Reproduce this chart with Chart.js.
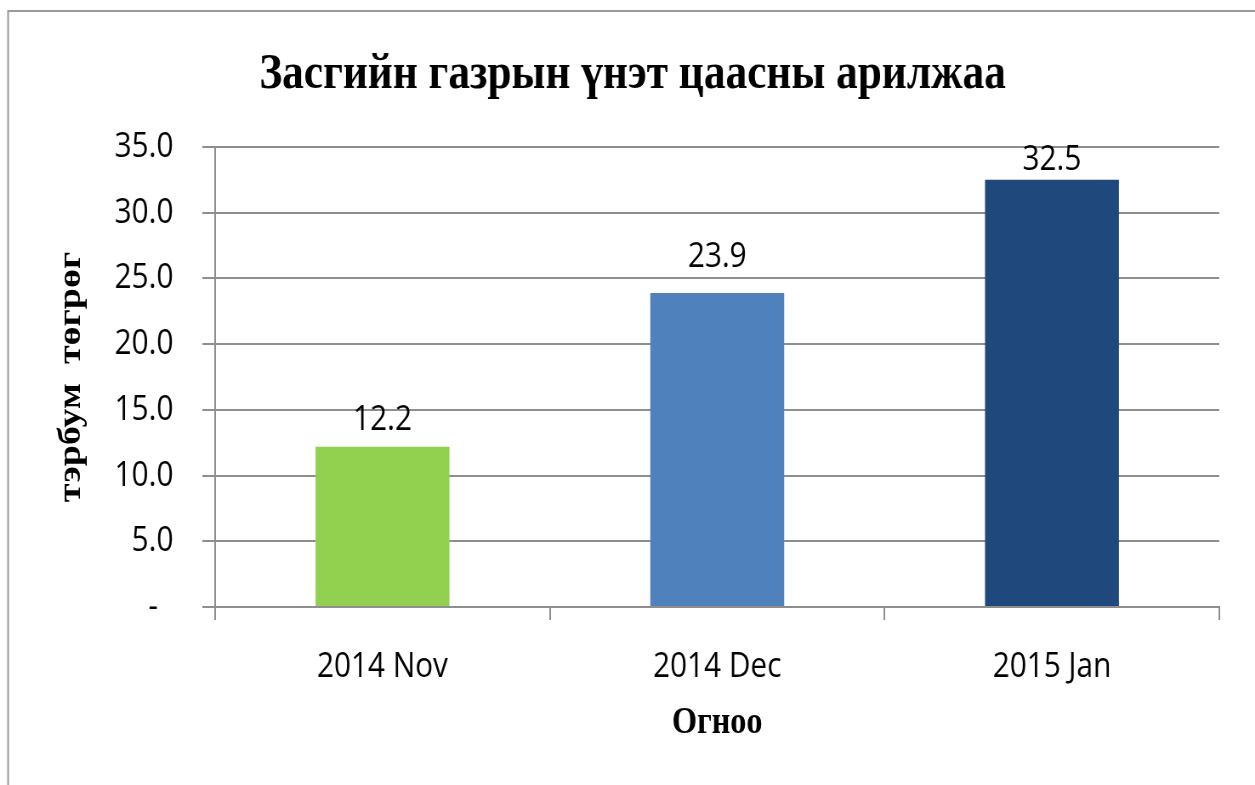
<!DOCTYPE html>
<html>
<head>
<meta charset="utf-8">
<script src="https://cdn.jsdelivr.net/npm/chart.js@4/dist/chart.umd.min.js"></script>
<style>
  html, body { margin: 0; padding: 0; background: #fff; overflow: hidden; }
  #wrap { width: 1476px; height: 785px; transform: scaleX(0.8503); transform-origin: 0 0; }
</style>
</head>
<body>
<div id="wrap"><canvas id="govBondChart" width="1476" height="785"></canvas></div>
<script>
// data
const months = ['2014 Nov', '2014 Dec', '2015 Jan'];
const tradeValues = [12.2, 23.9, 32.5];
const barColors = ['#92D050', '#4F81BD', '#1F497D'];
const yTicks = [0, 5, 10, 15, 20, 25, 30, 35];

// the original picture is squeezed horizontally, so the canvas is drawn wider and scaled by CSS
const labelLift = [17, 26, 10];
const gridGrey = '#8e8e8e';
const tickFont = { family: 'Open Sans', size: 35 };
const serifBold = { family: 'Liberation Serif', weight: 'bold' };

// outer chart frame
const framePlugin = {
  id: 'frame',
  beforeDraw(chart) {
    const ctx = chart.ctx;
    ctx.save();
    ctx.strokeStyle = '#999999';
    ctx.lineWidth = 2;
    ctx.strokeRect(9.5, 11, 1600, 900);
    ctx.restore();
  }
};

// value labels above the bars
const valueLabels = {
  id: 'valueLabels',
  afterDatasetsDraw(chart) {
    const ctx = chart.ctx;
    const meta = chart.getDatasetMeta(0);
    ctx.save();
    ctx.font = `${tickFont.size}px "${tickFont.family}"`;
    ctx.fillStyle = '#000';
    ctx.textAlign = 'center';
    ctx.textBaseline = 'alphabetic';
    meta.data.forEach((bar, i) => {
      ctx.fillText(tradeValues[i].toFixed(1), bar.x, bar.y - labelLift[i]);
    });
    ctx.restore();
  }
};

new Chart(document.getElementById('govBondChart').getContext('2d'), {
  type: 'bar',
  data: {
    labels: months,
    datasets: [{
      data: tradeValues,
      backgroundColor: barColors,
      borderWidth: 0,
      categoryPercentage: 1,
      barPercentage: 0.4
    }]
  },
  options: {
    responsive: false,
    devicePixelRatio: 1,
    animation: false,
    layout: { padding: { left: 54, right: 42, top: 0, bottom: 0 } },
    plugins: {
      legend: { display: false },
      tooltip: { enabled: false },
      title: {
        display: true,
        text: 'Засгийн газрын үнэт цаасны арилжаа',
        color: '#000',
        font: { ...serifBold, size: 51 },
        padding: { top: 44, bottom: 41.8 }
      }
    },
    scales: {
      x: {
        offset: true,
        grid: {
          offset: true,
          drawOnChartArea: false,
          drawTicks: true,
          tickLength: 13,
          color: gridGrey,
          lineWidth: 2
        },
        border: { display: true, color: gridGrey, width: 2 },
        ticks: { color: '#000', font: tickFont, padding: 26 },
        title: {
          display: true,
          text: 'Огноо',
          color: '#000',
          font: { ...serifBold, size: 38 },
          padding: { top: 0, bottom: 39 }
        },
        afterFit(scale) { scale.height = 178; }
      },
      y: {
        min: 0,
        max: 35,
        afterBuildTicks(scale) { scale.ticks = yTicks.map(v => ({ value: v })); },
        grid: {
          color: gridGrey,
          lineWidth: 2,
          drawTicks: true,
          tickLength: 15
        },
        border: { display: true, color: gridGrey, width: 2 },
        ticks: {
          color: '#000',
          font: tickFont,
          padding: 34,
          callback: (v) => (v === 0 ? '-  ' : Number(v).toFixed(1))
        },
        title: {
          display: true,
          text: 'тэрбум  төгрөг',
          color: '#000',
          font: { ...serifBold, size: 38 },
          padding: { top: 7, bottom: 0 }
        },
        afterFit(scale) { scale.width = 199; }
      }
    }
  },
  plugins: [framePlugin, valueLabels]
});
</script>
</body>
</html>
